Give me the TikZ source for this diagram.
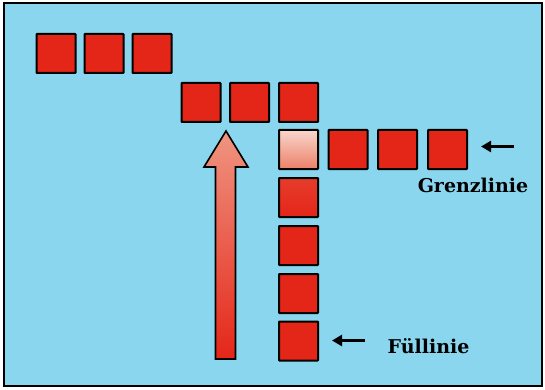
\documentclass[tikz,border=0pt]{standalone}
\usepackage{fontspec}
\setmainfont{DejaVu Serif}
\usetikzlibrary{arrows.meta}
\definecolor{sky}{RGB}{138,214,238}
\definecolor{brick}{RGB}{228,38,24}
\definecolor{pale}{RGB}{248,214,204}
\definecolor{salmon}{RGB}{236,128,104}
\tikzset{
  cell/.style={draw=black, line width=2pt, fill=brick, minimum width=39pt, minimum height=39pt, inner sep=0pt, rounded corners=0.5pt},
  lightcell/.style={cell, fill=none, top color=pale, bottom color=salmon},
  pointer/.style={line width=3pt, -{Triangle[length=10pt,width=11pt]}},
  label/.style={font=\bfseries\fontsize{19}{21}\selectfont, inner sep=0pt, anchor=base}
}
\begin{document}
\begin{tikzpicture}[x=1pt,y=-1pt]
\useasboundingbox (0,0) rectangle (545,390);
\fill[white] (0,0) rectangle (545,390);
\draw[line width=2pt, fill=sky] (3.5,3.5) rectangle (541.5,386);
% row 1
\node[cell] (a1) at (56,53.5) {};
\node[cell] (a2) at (104,53.5) {};
\node[cell] (a3) at (152,53.5) {};
% row 2
\node[cell] (b1) at (201,102.5) {};
\node[cell] (b2) at (249.5,102.5) {};
\node[cell] (b3) at (298.5,102.5) {};
% row 3
\node[lightcell] (c0) at (298.5,149.5) {};
\node[cell] (c1) at (348,149.5) {};
\node[cell] (c2) at (397.5,149.5) {};
\node[cell] (c3) at (447.5,149.5) {};
% column
\node[cell, fill=none, top color=brick!75!salmon, bottom color=brick] (d1) at (298.5,197.5) {};
\node[cell] (d2) at (298.5,245.5) {};
\node[cell] (d3) at (298.5,293.5) {};
\node[cell] (d4) at (298.5,341) {};
% big arrow
\draw[line width=1.6pt, top color=salmon!75!pale, middle color=brick!75!salmon, bottom color=brick, line join=miter]
  (215.5,359) -- (215.5,167) -- (204,167) -- (226,131) -- (248,167) -- (235.5,167) -- (235.5,359) -- cycle;
% pointers
\coordinate (g1) at (514,146.5);
\coordinate (g2) at (481,146.5);
\draw[pointer] (g1) -- (g2);
\node[label] (gl) at (473,192) {Grenzlinie};
\coordinate (f1) at (365,340.5);
\coordinate (f2) at (332,340.5);
\draw[pointer] (f1) -- (f2);
\node[label] (fl) at (428.5,353) {Füllinie};
\end{tikzpicture}
\end{document}
